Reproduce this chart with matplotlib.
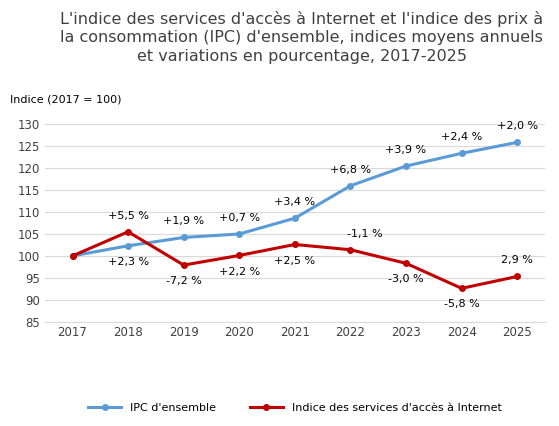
import matplotlib.pyplot as plt

years = [2017, 2018, 2019, 2020, 2021, 2022, 2023, 2024, 2025]
ipc = [100, 102.3, 104.2, 105.0, 108.6, 116.0, 120.5, 123.4, 125.9]
internet = [100, 105.5, 97.9, 100.1, 102.6, 101.4, 98.3, 92.6, 95.3]
ipc_labels = ["", "+2,3 %", "+1,9 %", "+0,7 %", "+3,4 %", "+6,8 %", "+3,9 %", "+2,4 %", "+2,0 %"]
ipc_pos = [0, -1, 1, 1, 1, 1, 1, 1, 1]
int_labels = ["", "+5,5 %", "-7,2 %", "+2,2 %", "+2,5 %", "-1,1 %", "-3,0 %", "-5,8 %", "2,9 %"]
int_pos = [0, 1, -1, -1, -1, 1, -1, -1, 1]

blue = '#5b9bd5'
red = '#c00000'

fig = plt.figure(figsize=(5.59, 4.26), dpi=100)
ax = fig.add_axes([0.08, 0.245, 0.895, 0.463])

x = list(range(len(years)))
ax.plot(x, ipc, color=blue, lw=2.2, marker='o', ms=4, label="IPC d'ensemble")
ax.plot(x, internet, color=red, lw=2.2, marker='o', ms=4,
        label="Indice des services d'accès à Internet")

for i in x:
    if ipc_labels[i]:
        ax.annotate(ipc_labels[i], (i, ipc[i]), xytext=(0, 8 * ipc_pos[i]),
                    textcoords='offset points', ha='center',
                    va='bottom' if ipc_pos[i] > 0 else 'top', fontsize=8)
    if int_labels[i]:
        dx = 10 if i == 5 else 0
        ax.annotate(int_labels[i], (i, internet[i]), xytext=(dx, 8 * int_pos[i]),
                    textcoords='offset points', ha='center',
                    va='bottom' if int_pos[i] > 0 else 'top', fontsize=8)

ax.set_ylim(85, 130)
ax.set_yticks(range(85, 131, 5))
ax.set_xlim(-0.5, len(years) - 0.5)
ax.set_xticks(x)
ax.set_xticklabels(years)
ax.tick_params(length=0, labelsize=8.5, colors='#404040')
ax.grid(axis='y', color='#d9d9d9', lw=0.8)
ax.set_axisbelow(True)
for s in ['top', 'right', 'left']:
    ax.spines[s].set_visible(False)
ax.spines['bottom'].set_color('#d9d9d9')

fig.text(0.54, 0.975, "L'indice des services d'accès à Internet et l'indice des prix à\n"
         "la consommation (IPC) d'ensemble, indices moyens annuels\n"
         "et variations en pourcentage, 2017-2025",
         ha='center', va='top', fontsize=11.5, color='#404040', linespacing=1.3)
fig.text(0.018, 0.755, "Indice (2017 = 100)", fontsize=8, va='bottom')

ax.legend(loc='upper center', bbox_to_anchor=(0.5, -0.36), ncol=2, frameon=False,
          fontsize=8, handlelength=3, columnspacing=3)

fig.savefig('out.png', dpi=100)
